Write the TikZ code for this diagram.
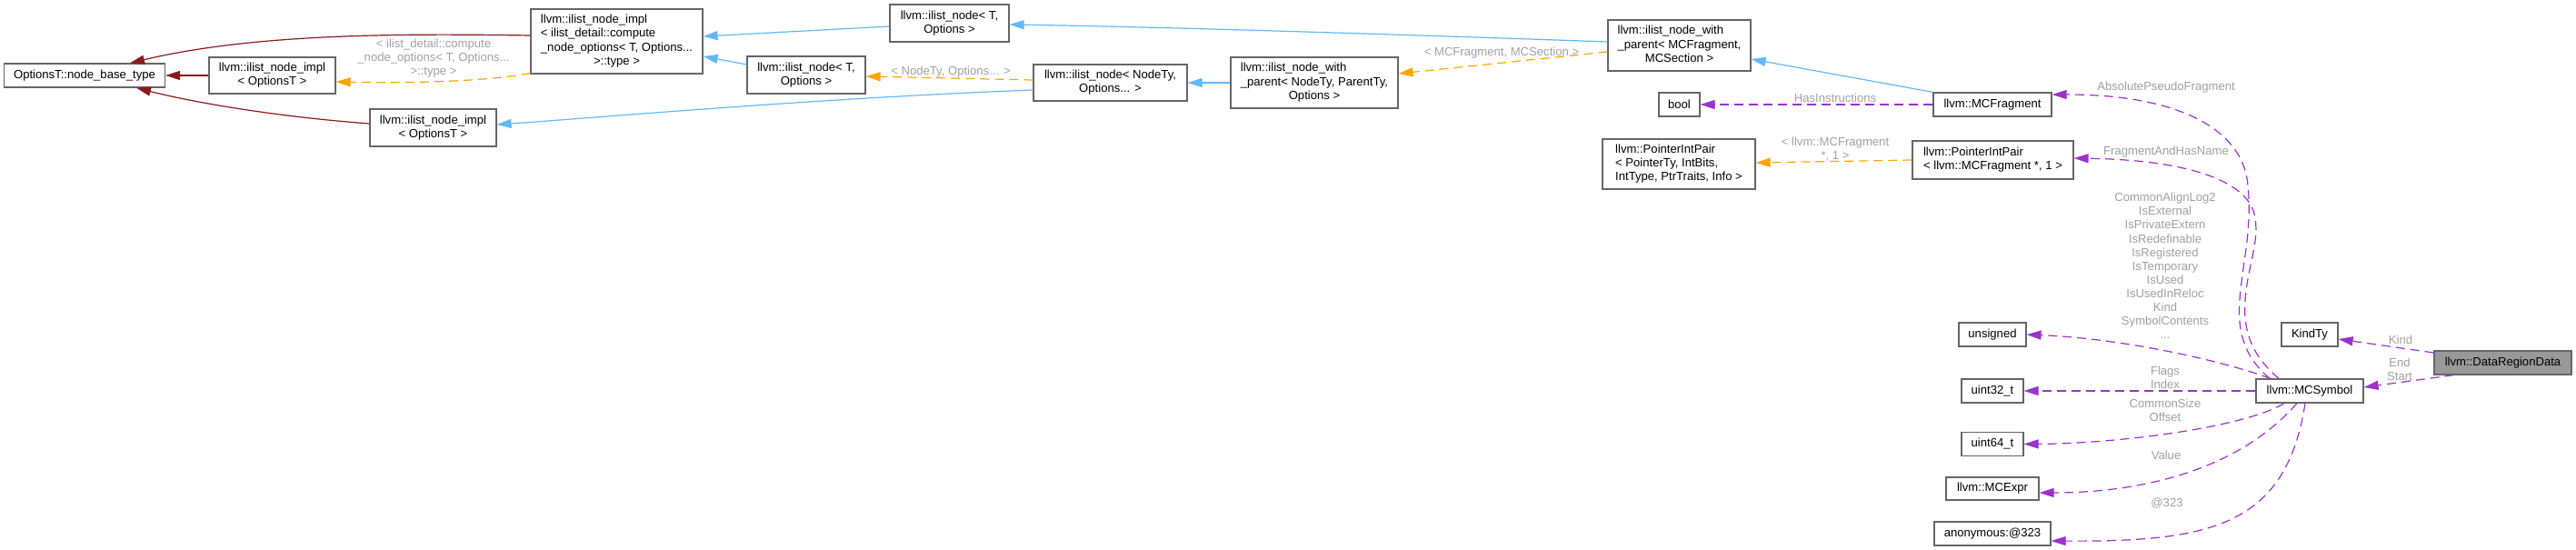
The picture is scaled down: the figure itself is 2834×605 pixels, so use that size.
\documentclass[tikz,border=0pt]{standalone}
\usepackage{fontspec}
\setmainfont{Liberation Sans}
\usetikzlibrary{arrows.meta}
\definecolor{dred}{HTML}{8B1A1A}
\definecolor{dblue}{HTML}{63B8FF}
\definecolor{dorange}{HTML}{FFA500}
\definecolor{dpurple}{HTML}{9A32CD}
\definecolor{dborder}{HTML}{666666}
\definecolor{dlabel}{HTML}{A0A0A0}
\definecolor{dfill}{HTML}{999999}
\newcommand\dxL[1]{\begin{tabular}{@{}l@{}}#1\end{tabular}}
\newcommand\dxC[1]{\multicolumn{1}{@{}c@{}}{#1}}
\begin{document}
\begin{tikzpicture}[x=0.5pt,y=-0.5pt,
  box/.style={draw=dborder, line width=0.6pt, fill=white, inner sep=0pt,
    font=\fontsize{6.55}{7.55}\selectfont, align=center},
  wh/.style 2 args={minimum width=#1*0.5pt, minimum height=#2*0.5pt},
  lbl/.style={text=dlabel, inner sep=0pt, font=\fontsize{6.55}{7.55}\selectfont, align=center},
  conn/.style={line width=0.6pt, -{Triangle[length=8pt,width=5pt]}},
  inhred/.style={conn, draw=dred},
  inh/.style={conn, draw=dblue},
  tmpl/.style={conn, draw=dorange, dash pattern=on 5pt off 3pt},
  mem/.style={conn, draw=dpurple, dash pattern=on 5pt off 3pt}]
\useasboundingbox (0,0) rectangle (2834,605);

% nodes
\node[box, wh={177}{26}] (ntype) at (93,83) {OptionsT::node\_base\_type};
\node[box, wh={139}{40}] (implA) at (299.5,83) {llvm::ilist\_node\_impl\\< OptionsT >};
\node[box, wh={189}{71}] (implB) at (678.5,45.5) {\dxL{llvm::ilist\_node\_impl\\< ilist\_detail::compute\\\_node\_options< T, Options...\\\dxC{>::type >}}};
\node[box, wh={139}{41}] (implC) at (476.5,140.5) {llvm::ilist\_node\_impl\\< OptionsT >};
\node[box, wh={131}{41}] (nodeD) at (1044.5,25.5) {llvm::ilist\_node< T,\\Options >};
\node[box, wh={130}{41}] (nodeE) at (887,82.5) {llvm::ilist\_node< T,\\Options >};
\node[box, wh={169}{40}] (nodeF) at (1221.5,91) {llvm::ilist\_node< NodeTy,\\Options... >};
\node[box, wh={184}{56}] (wpG) at (1446,91) {\dxL{llvm::ilist\_node\_with\\\_parent< NodeTy, ParentTy,\\\dxC{Options >}}};
\node[box, wh={157}{56}] (wpH) at (1847.5,50) {\dxL{llvm::ilist\_node\_with\\\_parent< MCFragment,\\\dxC{MCSection >}}};
\node[box, wh={45}{26}] (bool) at (1847.5,115) {bool};
\node[box, wh={130}{26}] (frag) at (2192,115) {llvm::MCFragment};
\node[box, wh={168}{55}] (pipK) at (1847,180.5) {\dxL{llvm::PointerIntPair\\< PointerTy, IntBits,\\\dxC{IntType, PtrTraits, Info >}}};
\node[box, wh={177}{42}] (pipJ) at (2192.5,176) {\dxL{llvm::PointerIntPair\\\dxC{< llvm::MCFragment *, 1 >}}};
\node[box, wh={74}{26}] (uns) at (2192,368) {unsigned};
\node[box, wh={68}{26}] (u32) at (2192,430) {uint32\_t};
\node[box, wh={68}{26}] (u64) at (2192,488.5) {uint64\_t};
\node[box, wh={102}{25}] (expr) at (2192,537.5) {llvm::MCExpr};
\node[box, wh={128}{26}] (anon) at (2192,587) {anonymous:@323};
\node[box, wh={62}{26}] (kind) at (2541,368) {KindTy};
\node[box, wh={118}{26}] (sym) at (2541,430) {llvm::MCSymbol};
\node[box, wh={151}{26}, fill=dfill] (drd) at (2753.5,399) {llvm::DataRegionData};

% labels
\node[lbl] (l1) at (477,64) {< ilist\_detail::compute\\\_node\_options< T, Options...\\>::type >};
\node[lbl] (l2) at (1046,79) {< NodeTy, Options... >};
\node[lbl] (l3) at (1652,58) {< MCFragment, MCSection >};
\node[lbl] (l4) at (2019,108) {HasInstructions};
\node[lbl] (l5) at (2019,164.5) {< llvm::MCFragment\\*, 1 >};
\node[lbl] (l6) at (2383,96) {AbsolutePseudoFragment};
\node[lbl] (l7) at (2383,167) {FragmentAndHasName};
\node[lbl] (l8) at (2382,292.5) {CommonAlignLog2\\IsExternal\\IsPrivateExtern\\IsRedefinable\\IsRegistered\\IsTemporary\\IsUsed\\IsUsedInReloc\\Kind\\SymbolContents\\...};
\node[lbl] (l9) at (2382,415) {Flags\\Index};
\node[lbl] (l10) at (2382,451) {CommonSize\\Offset};
\node[lbl] (l11) at (2383,501) {Value};
\node[lbl] (l12) at (2384,554) {@323};
\node[lbl] (l13) at (2641,374) {Kind};
\node[lbl] (l14) at (2640,406.5) {End\\Start};

% edges
\draw[inhred] (implA.west) -- (ntype.east);
\draw[inhred] ([yshift=3.25pt]implB.west) .. controls (450,37) and (283,36) .. ([xshift=25pt]ntype.north);
\draw[inhred] ([yshift=2.25pt]implC.west) .. controls (300,128) and (210,112) .. ([xshift=28.5pt]ntype.south);
\draw[tmpl] ([yshift=0.5pt]implB.south west) .. controls (520,92) and (420,91) .. ([yshift=-3.5pt]implA.east);
\draw[inh] ([yshift=-1.75pt]nodeD.west) -- ([yshift=2.75pt]implB.east);
\draw[inh] ([yshift=5.75pt]nodeE.west) -- ([yshift=-8.25pt]implB.east);
\draw[tmpl] ([yshift=1.5pt]nodeF.west) -- ([yshift=-0.75pt]nodeE.east);
\draw[inh] ([yshift=-4pt]nodeF.west) .. controls (900,108) and (650,130) .. ([yshift=1.75pt]implC.east);
\draw[inh] (wpG.west) -- (nodeF.east);
\draw[tmpl] ([yshift=-3.5pt]wpH.west) -- ([yshift=5pt]wpG.east);
\draw[inh] ([yshift=2pt]wpH.west) .. controls (1600,40) and (1300,30) .. ([yshift=-0.75pt]nodeD.east);
\draw[inh] (frag.north west) -- ([yshift=-7.5pt]wpH.east);
\draw[mem] (frag.west) -- (bool.east);
\draw[tmpl] (pipJ.west) -- ([yshift=0.75pt]pipK.east);
\draw[mem] ([xshift=-22pt]sym.north) .. controls (2472,395) and (2461,370) .. (2464,330)
  .. controls (2467,290) and (2478,250) .. (2473,205)
  .. controls (2470,150) and (2410,104) .. ([yshift=5.5pt]frag.east);
\draw[mem] ([xshift=-17pt]sym.north) .. controls (2482,395) and (2467,370) .. (2470,330)
  .. controls (2473,290) and (2487,265) .. (2480,235)
  .. controls (2471,200) and (2410,176) .. ([yshift=1pt]pipJ.east);
\draw[mem] ([xshift=-21.5pt]sym.north) .. controls (2440,395) and (2330,372) .. (uns.east);
\draw[mem] (sym.west) -- (u32.east);
\draw[mem] ([xshift=-14pt]sym.south) .. controls (2470,470) and (2330,488) .. (u64.east);
\draw[mem] ([xshift=-7pt]sym.south) .. controls (2460,520) and (2350,542) .. ([yshift=-2.25pt]expr.east);
\draw[mem] ([xshift=-2.5pt]sym.south) .. controls (2515,580) and (2430,596) .. ([yshift=-4pt]anon.east);
\draw[mem] ([yshift=5.5pt]drd.west) -- ([yshift=-2.5pt]kind.east);
\draw[mem] ([xshift=11pt]drd.south west) -- ([yshift=2pt]sym.east);
\end{tikzpicture}
\end{document}
